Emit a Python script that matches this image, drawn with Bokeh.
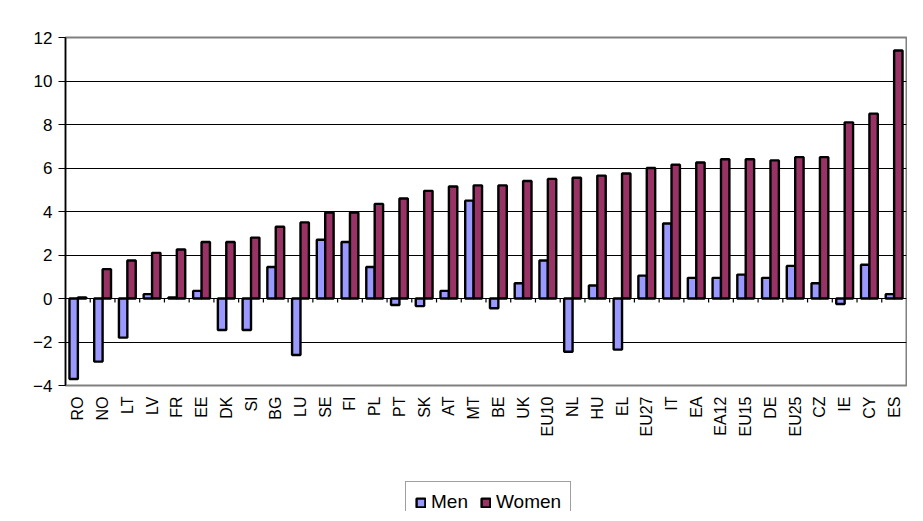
import math
from bokeh.plotting import figure
from bokeh.layouts import column
from bokeh.models import (ColumnDataSource, FactorRange, Legend, LegendItem, FixedTicker, Range1d,
                          BoxAnnotation)
from bokeh.transform import dodge
from bokeh.embed import file_html
from bokeh.resources import INLINE

categories = ["RO", "NO", "LT", "LV", "FR", "EE", "DK", "SI", "BG", "LU", "SE", "FI",
              "PL", "PT", "SK", "AT", "MT", "BE", "UK", "EU10", "NL", "HU", "EL", "EU27",
              "IT", "EA", "EA12", "EU15", "DE", "EU25", "CZ", "IE", "CY", "ES"]
men = [-3.7, -2.9, -1.8, 0.2, 0.05, 0.35, -1.45, -1.45, 1.45, -2.6, 2.7, 2.6,
       1.45, -0.3, -0.35, 0.35, 4.5, -0.45, 0.7, 1.75, -2.45, 0.6, -2.35, 1.05,
       3.45, 0.95, 0.95, 1.1, 0.95, 1.5, 0.7, -0.25, 1.55, 0.2]
women = [0.05, 1.35, 1.75, 2.1, 2.25, 2.6, 2.6, 2.8, 3.3, 3.5, 3.95, 3.95,
         4.35, 4.6, 4.95, 5.15, 5.2, 5.2, 5.4, 5.5, 5.55, 5.65, 5.75, 6.0,
         6.15, 6.25, 6.4, 6.4, 6.35, 6.5, 6.5, 8.1, 8.5, 11.4]
y_ticks = [-4, -2, 0, 2, 4, 6, 8, 10, 12]

FONT = "Liberation Sans"
MEN_COLOR = "#9999FF"
WOMEN_COLOR = "#993366"
BAR_W = 0.34
OFF = 0.17

src = ColumnDataSource(dict(cat=categories, men=men, women=women))
tick_src = ColumnDataSource(dict(cat=categories[1:], y0=[0] * (len(categories) - 1),
                                 y1=[-0.18] * (len(categories) - 1)))

x_range = FactorRange(*categories, range_padding=0)
p = figure(x_range=x_range, y_range=(-4, 12),
           frame_width=841, frame_height=348, output_backend="svg", toolbar_location=None,
           min_border_left=65, min_border_right=1, min_border_top=37, min_border_bottom=0)

p.outline_line_color = "#808080"
p.outline_line_width = 2
p.background_fill_color = "white"
p.border_fill_color = "white"

p.xgrid.grid_line_color = None
p.ygrid.grid_line_color = "black"
p.ygrid.grid_line_width = 1
p.yaxis.ticker = FixedTicker(ticks=y_ticks)

p.yaxis.axis_line_color = "black"
p.yaxis.axis_line_width = 1.5
p.yaxis.major_tick_line_color = "black"
p.yaxis.major_tick_out = 7
p.yaxis.major_tick_in = 0
p.yaxis.minor_tick_line_color = None
p.yaxis.major_label_text_font = FONT
p.yaxis.major_label_text_font_size = "17px"
p.yaxis.major_label_text_color = "black"
p.yaxis.major_label_standoff = 6

p.xaxis.axis_line_color = None
p.xaxis.major_tick_line_color = None
p.xaxis.major_label_orientation = math.pi / 2
p.xaxis.major_label_text_font = FONT
p.xaxis.major_label_text_font_size = "16px"
p.xaxis.major_label_text_color = "black"
p.xaxis.major_label_standoff = 5

bar_style = dict(line_color="black", line_width=2.4)
r_men = p.vbar(x=dodge("cat", -OFF, range=x_range), top="men", width=BAR_W, source=src,
               fill_color=MEN_COLOR, **bar_style)
r_women = p.vbar(x=dodge("cat", OFF, range=x_range), top="women", width=BAR_W, source=src,
                 fill_color=WOMEN_COLOR, **bar_style)

p.segment(x0=dodge("cat", -0.5, range=x_range), x1=dodge("cat", -0.5, range=x_range),
          y0="y0", y1="y1", source=tick_src, line_color="black", line_width=1.2)

# legend strip below the chart: same series, y-range kept away from the bars
lf = figure(x_range=x_range, y_range=Range1d(100, 101), width=907, height=72,
            output_backend="svg", toolbar_location=None,
            min_border_left=0, min_border_right=0, min_border_top=0, min_border_bottom=0)
lf.axis.visible = False
lf.grid.visible = False
lf.outline_line_color = None
lf.border_fill_color = "white"
l_men = lf.vbar(x=dodge("cat", -OFF, range=x_range), top="men", width=BAR_W, source=src,
                fill_color=MEN_COLOR, **bar_style)
l_women = lf.vbar(x=dodge("cat", OFF, range=x_range), top="women", width=BAR_W, source=src,
                  fill_color=WOMEN_COLOR, **bar_style)
# white cover over the strip so no bar edge shows
lf.add_layout(BoxAnnotation(fill_color="white", fill_alpha=1, line_color=None,
                            line_alpha=0, level="overlay"))

legend = Legend(items=[LegendItem(label="Men", renderers=[l_men]),
                       LegendItem(label="Women", renderers=[l_women])],
                orientation="horizontal", location=(340, -12), margin=0, level="overlay")
legend.label_text_font = FONT
legend.label_text_font_size = "19px"
legend.label_text_color = "black"
legend.glyph_width = 11
legend.glyph_height = 11
legend.label_standoff = 5
legend.spacing = 12
legend.padding = 9
legend.border_line_color = "#404040"
legend.border_line_width = 1.5
legend.background_fill_alpha = 1
lf.add_layout(legend, "center")

layout = column(p, lf, spacing=0)
open("out.html", "w").write(file_html(layout, INLINE))
